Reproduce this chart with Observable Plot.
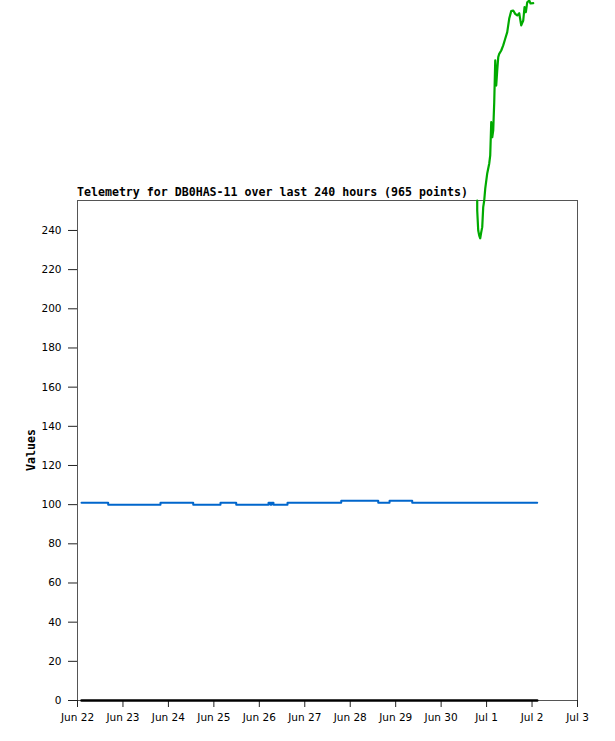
<!DOCTYPE html>
<html>
<head>
<meta charset="utf-8">
<script src="https://cdn.jsdelivr.net/npm/d3@7"></script>
<script src="https://cdn.jsdelivr.net/npm/@observablehq/plot@0.6"></script>
<style>
  html, body { margin: 0; padding: 0; background: #fff; }
  svg { display: block; }
</style>
</head>
<body>
<div id="chart"></div>
<script>
const titleText = "Telemetry for DB0HAS-11 over last 240 hours (965 points)";
const yAxisLabel = "Values";
const xDomain = ["2023-06-22T00:00Z", "2023-07-03T00:00Z"];
const yTicks = [0, 20, 40, 60, 80, 100, 120, 140, 160, 180, 200, 220, 240];

const blueTimes = ["2023-06-22T02:07Z","2023-06-22T16:12Z","2023-06-23T19:49Z","2023-06-24T13:06Z","2023-06-25T03:30Z","2023-06-25T11:48Z","2023-06-26T04:51Z","2023-06-26T05:54Z","2023-06-26T06:26Z","2023-06-26T07:29Z","2023-06-26T14:53Z","2023-06-27T19:15Z","2023-06-28T14:47Z","2023-06-28T20:46Z","2023-06-29T08:44Z","2023-07-02T02:44Z"];
const blueValues = [101, 100, 101, 100, 101, 100, 101, 100, 101, 100, 101, 102, 101, 102, 101, 101];

const greenTimes = ["2023-06-30T19:03Z","2023-06-30T19:03Z","2023-06-30T19:35Z","2023-06-30T20:07Z","2023-06-30T20:38Z","2023-06-30T21:10Z","2023-06-30T21:42Z","2023-06-30T22:13Z","2023-06-30T22:45Z","2023-06-30T23:17Z","2023-07-01T00:20Z","2023-07-01T01:24Z","2023-07-01T01:55Z","2023-07-01T02:27Z","2023-07-01T02:59Z","2023-07-01T03:30Z","2023-07-01T04:02Z","2023-07-01T04:34Z","2023-07-01T05:05Z","2023-07-01T05:37Z","2023-07-01T06:09Z","2023-07-01T06:40Z","2023-07-01T07:44Z","2023-07-01T08:47Z","2023-07-01T09:50Z","2023-07-01T10:54Z","2023-07-01T11:57Z","2023-07-01T13:00Z","2023-07-01T14:04Z","2023-07-01T15:07Z","2023-07-01T16:11Z","2023-07-01T17:14Z","2023-07-01T18:17Z","2023-07-01T19:21Z","2023-07-01T20:02Z","2023-07-01T20:44Z","2023-07-01T21:27Z","2023-07-01T22:31Z","2023-07-01T23:12Z","2023-07-02T00:37Z"];
const greenValues = [255.3, 250.2, 240, 237.4, 236, 239.1, 241.7, 251.9, 255.3, 261.4, 269.1, 274.2, 278.3, 295.3, 287.6, 291.1, 305.5, 326.8, 314, 321.7, 328.5, 330.2, 331.9, 334.5, 337.9, 341.3, 348.2, 352, 352.3, 350.6, 349.8, 350.9, 344.7, 347.2, 354, 351.5, 356.5, 357.4, 355.9, 356.1];

const blackTimes = ["2023-06-22T02:07Z", "2023-07-02T02:44Z"];
const blackValues = [0, 0];

const toRows = (times, values) => times.map((t, i) => ({t: new Date(t), v: values[i]}));
const blue = toRows(blueTimes, blueValues);
const green = toRows(greenTimes, greenValues);
const black = toRows(blackTimes, blackValues);

const plot = Plot.plot({
  width: 615,
  height: 741,
  marginTop: 200,
  marginLeft: 77,
  marginRight: 38,
  marginBottom: 41,
  style: {fontFamily: "DejaVu Sans", fontSize: "10.5px", color: "#000", background: "#fff", overflow: "visible"},
  x: {type: "utc", domain: xDomain.map(d => new Date(d))},
  y: {domain: [0, 255.3]},
  marks: [
    Plot.frame({stroke: "#555"}),
    Plot.axisY({ticks: yTicks, tickSize: 9, tickPadding: 7, label: null, stroke: "#222"}),
    Plot.axisX({ticks: d3.utcDay.every(1), tickFormat: d3.utcFormat("%b %-d"), tickSize: 7, tickPadding: 6, label: null, stroke: "#222"}),
    Plot.line(black, {x: "t", y: "v", stroke: "#000", strokeWidth: 2.5, curve: "step-after"}),
    Plot.line(blue, {x: "t", y: "v", stroke: "#0066cc", strokeWidth: 2, curve: "step-after"}),
    Plot.line(green, {x: "t", y: "v", stroke: "#00aa00", strokeWidth: 2.2, curve: "linear"})
  ]
});

const svg = d3.select(plot);
svg.append("text")
  .attr("x", 77).attr("y", 196)
  .attr("text-anchor", "start")
  .attr("font-family", "DejaVu Sans Mono").attr("font-weight", "bold")
  .attr("font-size", "11.6px").attr("fill", "#000")
  .text(titleText);
svg.append("text")
  .attr("transform", "translate(31,450) rotate(-90)")
  .attr("text-anchor", "middle").attr("dominant-baseline", "central")
  .attr("font-family", "DejaVu Sans Mono").attr("font-weight", "bold")
  .attr("font-size", "11.6px").attr("fill", "#000")
  .text(yAxisLabel);

document.getElementById("chart").appendChild(plot);
</script>
</body>
</html>
